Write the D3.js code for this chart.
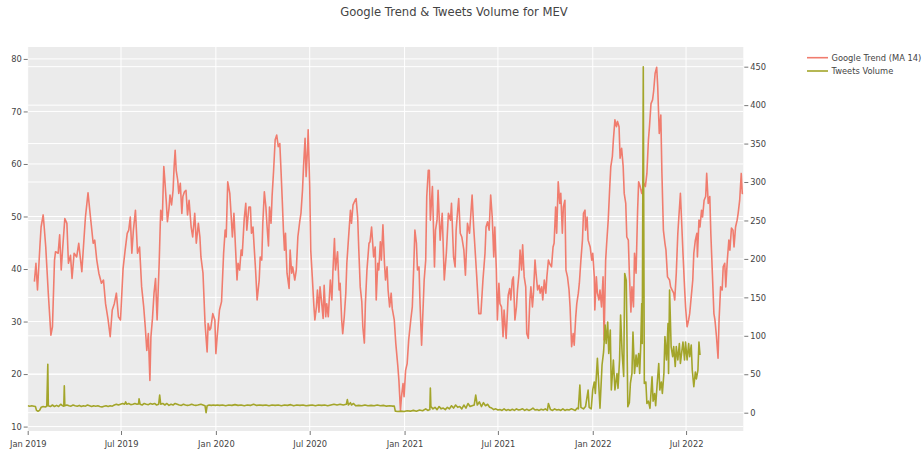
<!DOCTYPE html>
<html lang="en">
<head>
    <meta charset="UTF-8">
    <title>Google Trend & Tweets Volume for MEV</title>
    <script src="https://d3js.org/d3.v7.min.js"></script>
    <style>
        body { margin: 0; background: #fff; }
        text { font-family: "DejaVu Sans", Verdana, sans-serif; fill: #444; }
    </style>
</head>
<body>

<div id="chart"></div>

<script>
    // Days since 2019-01-01
    var googleTrend = [
        [13,37.6],[16,41.1],[19,36],[24,44.9],[26,48],[30,50.3],[32,48],[35,44.2],[40,35.3],[45,27.4],
        [48,29],[52,41.7],[54,43.3],[59,43],[62,46.5],[65,39.8],[68,44.2],[72,49.6],[76,48.7],[79,41.1],
        [83,42.6],[86,38.2],[90,43],[95,42.3],[99,44.9],[105,39.5],[109,45.5],[112,49.9],[117,54.5],[121,50.6],
        [127,44.9],[130,45.5],[134,41.7],[138,39.2],[143,37.3],[147,37.9],[151,33.4],[156,30.3],[160,27.1],[164,32.2],
        [168,33.4],[172,35.4],[176,30.9],[180,30.3],[185,40.1],[189,43.6],[193,46.8],[196,47.4],[199,49.9],[202,43],
        [205,47.4],[209,51.2],[213,43],[217,44.2],[221,36.6],[225,32.8],[228,29],[231,24.5],[234,27.7],[237,18.8],
        [239,27.1],[242,30.6],[245,35.4],[248,38.2],[251,30.3],[255,41.1],[257,48],[258,51.2],[261,49.3],[264,59.5],
        [266,56.9],[269,52.5],[271,49],[274,51.5],[276,54.1],[279,52.2],[282,55],[284,59.5],[286,62.6],[288,58.8],
        [291,56.9],[293,54.4],[296,56.3],[299,50.6],[301,53.8],[304,54.7],[307,55],[310,50.3],[313,53.1],[317,48],
        [320,46.1],[324,50.6],[327,44.9],[331,48.7],[334,46.1],[336,42.3],[340,39.2],[344,29.6],[348,24.2],[350,29.6],
        [353,28.4],[355,28.7],[359,31.5],[363,30.3],[365,23.9],[368,27.7],[372,32.2],[376,33.8],[380,43],[383,47.4],
        [385,46.1],[388,56.6],[392,54.4],[394,51.2],[397,46.1],[400,50.6],[403,44.2],[406,37.9],[408,41.1],[411,39.8],
        [414,43.6],[416,42.6],[420,49.6],[423,52.5],[425,47.4],[429,51.8],[432,51.8],[434,46.8],[437,48],[439,44.6],
        [442,39.8],[445,34.1],[449,37.9],[451,42.3],[454,41.7],[456,48.7],[459,54.7],[462,51.8],[464,48.5],[467,44.4],
        [469,51.8],[472,48.7],[474,53.8],[477,58.8],[480,64.6],[483,65.5],[486,63.3],[489,63.9],[491,59.5],[494,52.5],
        [496,47.4],[498,43.6],[500,46.8],[503,39.2],[507,36.3],[509,43.6],[512,39.2],[514,40.4],[518,37.9],[521,39.8],
        [524,46.1],[528,49.3],[530,50.6],[533,55],[535,59.5],[538,64.9],[540,57.6],[543,63.3],[544,66.5],[547,55.7],
        [549,43.6],[552,38.5],[555,33.1],[557,30.3],[560,32.8],[562,36],[565,31.8],[567,36.6],[570,33.8],[573,30.6],
        [575,36.9],[578,30.9],[580,33.4],[583,30.9],[587,37.9],[590,34.1],[592,39.5],[595,45.8],[597,39.8],[601,43.3],
        [604,36],[606,37.3],[609,30.3],[611,27.7],[614,30.9],[617,35.4],[619,41.1],[622,45.5],[626,51.2],[628,48.7],
        [631,52.2],[635,53.1],[637,53.4],[640,49.9],[642,44.2],[645,36.6],[648,33.8],[650,29],[653,25.9],[655,33.4],
        [658,39.8],[662,44.9],[664,45.2],[667,48],[671,42.3],[674,44.2],[676,34.1],[679,41.1],[681,39.8],[684,45.2],
        [686,41.7],[689,48.4],[692,41.1],[694,37.9],[697,40.4],[699,36],[702,32.8],[705,35.4],[707,32.5],[711,30.3],
        [714,25.8],[718,21.4],[720,18.8],[723,13.1],[725,15.7],[728,18.2],[730,15.7],[733,20.7],[736,22],[739,26.5],
        [743,30.3],[746,32.8],[749,41.1],[751,47.4],[754,44.9],[756,39.8],[759,40.4],[761,33.4],[764,25.5],[767,32.8],
        [769,37.9],[772,41.7],[774,53.8],[777,58.8],[779,58.8],[781,49.3],[785,55.7],[789,40.4],[791,47.4],[794,49.3],
        [796,55],[800,45.5],[804,50.6],[808,37.9],[812,43],[816,50.6],[820,49.3],[822,52.5],[826,42.3],[829,40.4],
        [831,47.4],[834,51.2],[836,53.4],[839,46.8],[842,46.1],[846,43.6],[849,38.8],[853,48.7],[857,46.8],[860,51.2],
        [862,54.1],[865,48],[867,44.9],[871,38.5],[875,31.5],[879,31.5],[883,37.9],[887,43],[889,48],[892,49],
        [895,47.4],[898,54.1],[901,49.9],[904,42.3],[906,48],[909,39.8],[911,30.3],[914,37.3],[916,33.4],[919,32.8],
        [922,27.1],[924,32.2],[928,26.8],[932,35],[935,36.3],[937,34.1],[940,37.9],[942,38.5],[945,30.3],[948,32.8],
        [950,36],[953,39.2],[955,43.6],[958,39.8],[960,44.6],[963,38.5],[966,36.6],[968,27.7],[971,26.8],[974,34.1],
        [976,36.6],[979,32.8],[981,35.4],[984,41.7],[986,39.2],[989,36],[992,36.9],[994,35.4],[997,36.6],[999,34.1],
        [1002,37.9],[1005,35.4],[1007,38.5],[1010,41.7],[1012,41.1],[1016,40.4],[1019,44.2],[1021,44.9],[1024,51.8],[1026,46.8],
        [1029,56.6],[1032,52.5],[1034,54.4],[1037,46.8],[1039,51.8],[1042,53.1],[1044,39.8],[1047,38.5],[1050,36],[1052,32.8],
        [1055,25.2],[1058,27.7],[1060,25.5],[1063,30.9],[1065,33.4],[1068,35.4],[1070,37.3],[1073,41.7],[1076,45.5],[1078,50.6],
        [1081,51.2],[1082,47.4],[1085,49.9],[1087,45.5],[1091,44.2],[1094,41.7],[1096,43],[1099,38.5],[1100,32.2],[1103,38.5],
        [1105,35.4],[1108,34.1],[1110,36],[1113,32.8],[1116,38.5],[1118,26.5],[1121,41.7],[1123,44.9],[1126,49.3],[1129,55.7],
        [1131,59.5],[1134,61.4],[1136,64.6],[1139,68.4],[1142,67.1],[1144,68.1],[1147,67.1],[1149,61.1],[1152,63],[1155,59.5],
        [1157,54.4],[1160,52.5],[1162,46.1],[1165,45.5],[1167,39.2],[1170,31.8],[1172,36.6],[1175,32.8],[1177,43],[1180,39.2],
        [1183,51.2],[1185,56.6],[1188,55.7],[1191,54.4],[1195,56.3],[1198,55.7],[1201,58.2],[1204,64.6],[1206,67.1],[1209,71.5],
        [1212,72.2],[1214,73.8],[1217,77.3],[1220,78.4],[1222,74.7],[1225,65.8],[1228,69.3],[1230,58.8],[1233,47.4],[1236,44.9],
        [1238,43.6],[1241,38.5],[1245,37.9],[1247,36.6],[1250,36],[1253,35.4],[1255,34.1],[1258,39.2],[1261,46.8],[1263,49.9],
        [1266,54.4],[1268,49.9],[1271,43],[1274,36.6],[1276,32.8],[1279,29],[1282,30.3],[1284,31.5],[1287,34.7],[1290,37.9],
        [1292,43],[1295,45.5],[1298,46.8],[1299,42.3],[1302,49.3],[1304,48],[1307,51.2],[1309,49.9],[1312,53.1],[1315,53.8],
        [1317,58.2],[1320,52.5],[1323,53.8],[1325,46.8],[1328,39.2],[1331,31.5],[1333,30.3],[1336,27.1],[1339,23],[1341,30.3],
        [1344,36.6],[1347,36],[1349,40.4],[1352,41.1],[1354,36.6],[1357,41.7],[1360,45.5],[1362,43.6],[1365,47.8],[1368,47.4],
        [1370,44.2],[1373,48],[1376,49.3],[1378,50.6],[1381,53.1],[1384,58.2],[1386,54.4],[1388,54.4]
    ];

    var tweetsVolume = [
        [0,9],[4,8.5],[8,9],[12,8.5],[15,8],[17,3],[20,2],[23,3],[26,7],[30,8],
        [34,7.5],[37,8.5],[39,63],[40,9],[44,8],[48,10],[52,8],[56,9.5],[60,8],[64,11],
        [68,9],[70,8.5],[71,35],[72,9],[76,10],[80,9],[84,8.5],[88,10],[92,9],[96,8.5],
        [100,9.5],[104,8],[108,9],[112,8.5],[116,10],[120,9],[124,8],[128,9],[132,8.5],[136,9],
        [140,8],[144,7.5],[148,8.5],[152,9],[156,8],[160,9],[164,8.5],[168,10],[172,11],[176,10],
        [180,11],[184,12],[188,11],[190,14],[192,11],[196,12],[200,10.5],[204,11],[208,12],[212,11],
        [215,11.5],[216,18],[218,11],[222,10],[226,12],[230,11],[234,10.5],[238,12],[242,11],[246,12],
        [250,10],[254,11],[256,23],[258,11],[262,12],[266,10],[270,12],[274,9.5],[278,11],[282,10],
        [286,12],[290,11],[294,10],[298,9.5],[302,11],[306,10],[310,9.5],[314,10],[318,11],[322,10],
        [326,9.5],[330,10],[336,11],[340,10],[344,9],[346,0],[348,9],[352,10],[356,9.5],[360,10],
        [364,9.5],[368,10],[372,9.5],[378,10],[384,9],[390,10],[396,9.5],[402,10.5],[408,9.5],[414,10],
        [420,9],[426,10],[432,9.5],[438,11],[444,9.5],[450,10],[456,9.5],[462,10],[468,9],[474,10],
        [480,9.5],[486,10],[492,9],[498,10],[504,9.5],[510,10.5],[516,9],[522,10],[528,9.5],[534,10],
        [540,9],[546,9.5],[552,10],[558,9],[564,10],[570,9.5],[576,10],[582,9],[588,10],[594,11],
        [600,10],[606,11],[612,10],[618,11],[620,17],[622,10],[626,13],[628,10],[632,12],[636,9],
        [642,9.5],[648,9],[654,10],[660,9],[666,9.5],[672,9],[678,10],[684,9],[690,9.5],[696,8.5],
        [702,9],[708,8.5],[711,8.5],[713,2],[718,1.5],[724,2],[730,1.5],[736,2.5],[742,2],[748,3],
        [754,2],[760,3.5],[766,2.5],[772,5],[776,3],[780,4],[781,32],[782,8],[786,5],[790,7],
        [794,4],[798,8],[802,5],[806,6],[810,4],[814,7],[818,5],[822,9],[826,6],[830,10],
        [834,7],[838,8],[842,5],[846,10],[850,6],[854,12],[858,8],[862,9],[866,10],[869,23],
        [872,10],[876,14],[880,8],[884,13],[888,9],[892,11],[896,7],[900,6],[904,4],[908,5],
        [912,3.5],[916,4],[920,3],[924,5],[928,3],[932,4],[936,3],[940,4.5],[944,3],[948,5],
        [952,3.5],[956,4],[960,5],[964,3],[968,4.5],[972,3],[976,4],[980,6],[984,3.5],[988,4],
        [992,3],[996,4.5],[1000,3.5],[1004,5],[1008,3],[1010,12],[1014,4],[1018,3],[1022,5],[1026,3.5],
        [1030,4],[1034,3],[1038,5],[1042,3],[1046,4],[1050,3.5],[1054,5],[1058,4],[1062,3],[1066,6],
        [1068,5],[1071,36],[1073,7],[1078,5],[1082,8],[1087,29.5],[1089,7],[1093,5],[1096,30],[1099,40],
        [1101,25],[1105,70.7],[1110,5.7],[1114,62],[1117,79],[1120,114],[1122,90],[1125,118],[1127,77],[1130,107.5],
        [1132,29.5],[1136,68.5],[1139,29.5],[1143,51],[1145,31.7],[1148,68.5],[1150,127],[1153,77],[1156,47],[1158,181],
        [1161,172],[1164,7.8],[1167,13],[1169,38],[1172,51],[1174,105],[1177,51],[1180,75],[1182,60],[1185,77],
        [1187,51],[1189,86],[1191,142],[1192,90],[1194,450],[1196,38],[1199,40],[1201,12],[1204,15],[1207,5.7],
        [1211,46.8],[1213,15],[1216,25],[1218,9],[1221,38],[1224,64],[1226,29.5],[1229,40],[1231,25],[1234,51],
        [1236,99],[1239,68.5],[1242,116],[1243,51],[1245,159.6],[1248,86],[1251,72.8],[1253,86],[1256,60],[1258,86],
        [1261,68.5],[1264,90],[1266,64],[1269,81],[1271,92],[1274,68.5],[1276,92],[1279,68.5],[1282,90],[1284,72.8],
        [1287,88],[1289,55.5],[1292,33.8],[1295,53],[1297,44],[1300,55.5],[1302,92],[1304,75]
    ];

    var leftTicks = [10, 20, 30, 40, 50, 60, 70, 80];
    var rightTicks = [0, 50, 100, 150, 200, 250, 300, 350, 400, 450];
    var seriesNames = ["Google Trend (MA 14)", "Tweets Volume"];
    var seriesColors = ["#f07c6e", "#a3a52a"];

    var width = 922, height = 454;
    var margin = { top: 47, right: 178.7, bottom: 23, left: 27.7 };
    var plotW = width - margin.left - margin.right,
        plotH = height - margin.top - margin.bottom;

    var start = new Date(Date.UTC(2019, 0, 1));
    function toDate(d) { return d3.utcDay.offset(start, d); }

    var allDays = googleTrend.concat(tweetsVolume).map(function (d) { return d[0]; });

    var x = d3.scaleUtc()
        .domain(d3.extent(allDays).map(toDate))
        .range([0, plotW]);
    var yLeft = d3.scaleLinear().domain([9.16, 82.27]).range([plotH, 0]);
    var yRight = d3.scaleLinear().domain([-23.8, 475.6]).range([plotH, 0]);

    var svg = d3.select("#chart").append("svg")
        .attr("width", width)
        .attr("height", height);

    svg.append("text")
        .attr("x", 454)
        .attr("y", 15.5)
        .attr("text-anchor", "middle")
        .style("font-size", "11.6px")
        .text("Google Trend & Tweets Volume for MEV");

    var g = svg.append("g")
        .attr("transform", "translate(" + margin.left + "," + margin.top + ")");

    g.append("rect")
        .attr("width", plotW)
        .attr("height", plotH)
        .attr("fill", "#ebebeb");

    // grid
    var xTicks = x.ticks(d3.utcMonth.every(6));
    g.selectAll(".gx").data(xTicks).enter().append("line")
        .attr("x1", function (d) { return x(d); }).attr("x2", function (d) { return x(d); })
        .attr("y1", 0).attr("y2", plotH)
        .attr("stroke", "#fff").attr("stroke-width", 1);
    g.selectAll(".gl").data(leftTicks).enter().append("line")
        .attr("x1", 0).attr("x2", plotW)
        .attr("y1", function (d) { return yLeft(d); }).attr("y2", function (d) { return yLeft(d); })
        .attr("stroke", "#fff").attr("stroke-width", 1);
    g.selectAll(".gr").data(rightTicks).enter().append("line")
        .attr("x1", 0).attr("x2", plotW)
        .attr("y1", function (d) { return yRight(d); }).attr("y2", function (d) { return yRight(d); })
        .attr("stroke", "#fff").attr("stroke-width", 1);

    // axes
    var fmt = d3.utcFormat("%b %Y");
    var xAxis = g.append("g")
        .attr("transform", "translate(0," + plotH + ")")
        .call(d3.axisBottom(x).tickValues(xTicks).tickFormat(fmt).tickSize(4).tickPadding(6));
    var lAxis = g.append("g")
        .call(d3.axisLeft(yLeft).tickValues(leftTicks).tickSize(4).tickPadding(2));
    var rAxis = g.append("g")
        .attr("transform", "translate(" + (plotW + 1) + ",0)")
        .call(d3.axisRight(yRight).tickValues(rightTicks).tickSize(4).tickPadding(2));

    [xAxis, lAxis, rAxis].forEach(function (a) {
        a.select(".domain").remove();
        a.selectAll(".tick line").attr("stroke", "#777");
        a.selectAll("text")
            .style("font-size", "8.3px")
            .style("font-family", "'DejaVu Sans', Verdana, sans-serif")
            .attr("fill", "#444");
    });

    g.append("clipPath").attr("id", "clip")
        .append("rect").attr("width", plotW).attr("height", plotH);

    var lineL = d3.line()
        .x(function (d) { return x(toDate(d[0])); })
        .y(function (d) { return yLeft(d[1]); });
    var lineR = d3.line()
        .x(function (d) { return x(toDate(d[0])); })
        .y(function (d) { return yRight(d[1]); });

    var plot = g.append("g").attr("clip-path", "url(#clip)");
    plot.append("path")
        .datum(googleTrend)
        .attr("d", lineL)
        .attr("fill", "none")
        .attr("stroke", seriesColors[0])
        .attr("stroke-width", 1.6)
        .attr("stroke-linejoin", "round");
    plot.append("path")
        .datum(tweetsVolume)
        .attr("d", lineR)
        .attr("fill", "none")
        .attr("stroke", seriesColors[1])
        .attr("stroke-width", 1.6)
        .attr("stroke-linejoin", "round");

    // legend
    var legend = svg.append("g").attr("transform", "translate(807,57.7)");
    seriesNames.forEach(function (name, i) {
        var row = legend.append("g").attr("transform", "translate(0," + (i * 13.3) + ")");
        row.append("line")
            .attr("x1", 0).attr("x2", 21)
            .attr("stroke", seriesColors[i]).attr("stroke-width", 1.6);
        row.append("text")
            .attr("x", 24.5).attr("y", 3)
            .style("font-size", "8.3px")
            .text(name);
    });
</script>

</body>
</html>
